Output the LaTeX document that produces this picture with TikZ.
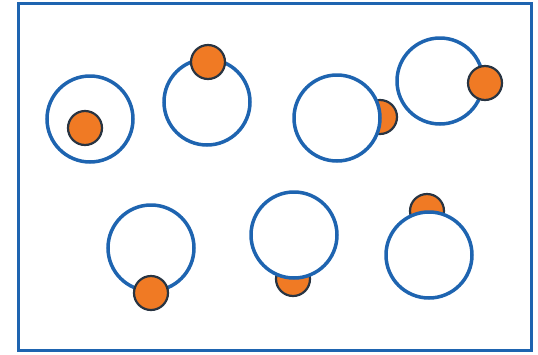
\documentclass[tikz,border=0pt]{standalone}
\usepackage{tikz}
\usetikzlibrary{positioning}
\definecolor{ringBlue}{RGB}{30,100,176}
\definecolor{dotOrange}{RGB}{240,122,36}
\definecolor{dotEdge}{RGB}{40,52,66}
\tikzset{
myRing/.style={
	circle,draw=ringBlue,fill=white,line width=3.5pt,
	inner sep=0pt,minimum size=86pt
}
, myDot/.style={
	circle,draw=dotEdge,fill=dotOrange,line width=2.2pt,
	inner sep=0pt,minimum size=34pt
}
, myFrame/.style={draw=ringBlue,line width=3pt}
}
\begin{document}
\begin{tikzpicture}[x=1pt,y=-1pt]
	\useasboundingbox (0,0) rectangle (538,354);
	\draw[myFrame] (18,3) rectangle (531,350);
	% dots behind the rings
	\node[myDot] (DotC) at (380,117) {};
	\node[myDot] (DotF) at (293,279) {};
	\node[myDot] (DotG) at (427,211) {};
	% rings
	\node[myRing] (RingA) at (90,119)  {};
	\node[myRing] (RingB) at (207,102) {};
	\node[myRing] (RingC) at (337,118) {};
	\node[myRing] (RingD) at (440,81)  {};
	\node[myRing] (RingE) at (151,248) {};
	\node[myRing] (RingF) at (294,235) {};
	\node[myRing] (RingG) at (429,255) {};
	% dots in front
	\node[myDot] (DotA) at (85,128)  {};
	\node[myDot] (DotB) at (208,62)  {};
	\node[myDot] (DotD) at (485,83)  {};
	\node[myDot] (DotE) at (151,293) {};
\end{tikzpicture}
\end{document}
